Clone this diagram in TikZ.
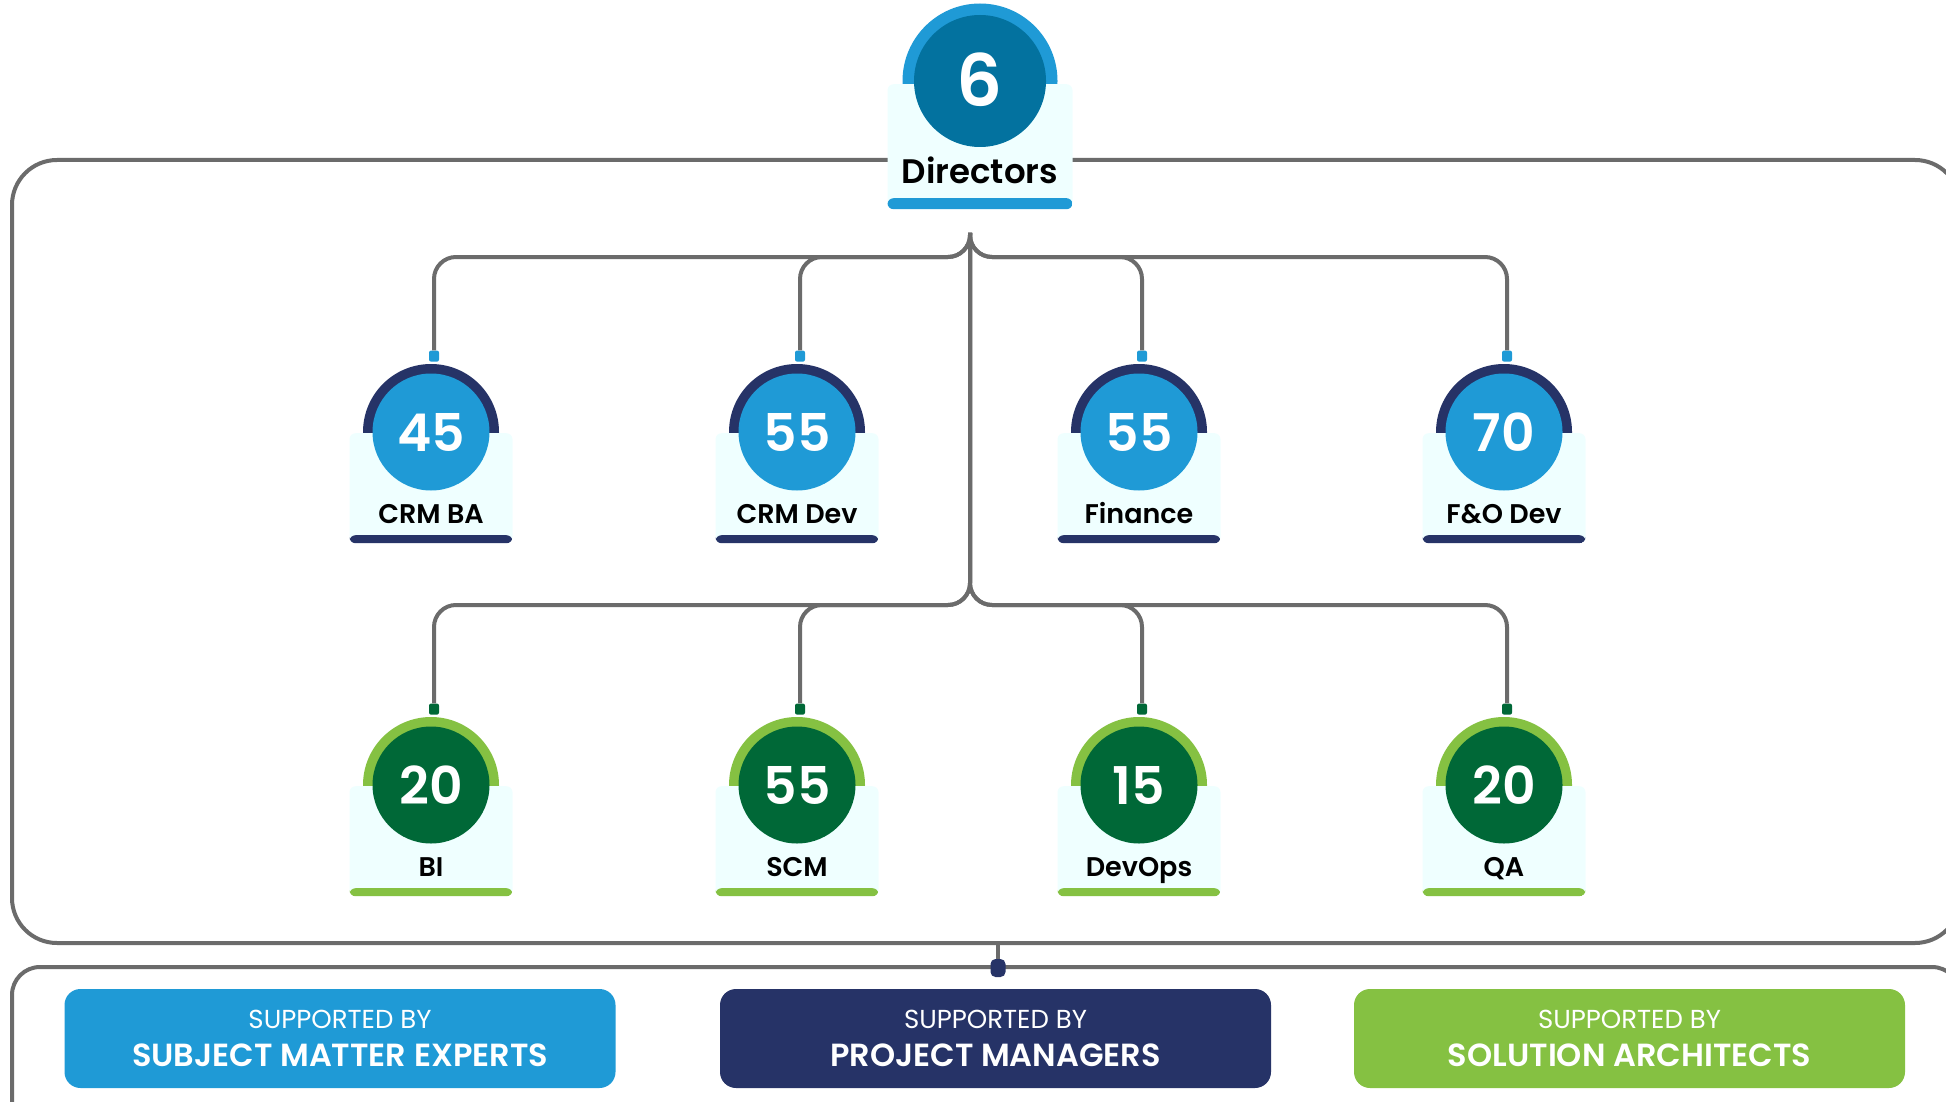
\documentclass[tikz,border=0pt]{standalone}
\usepackage{fontspec}
\setmainfont{Poppins}[BoldFont={Poppins SemiBold}]
\usetikzlibrary{positioning, calc}
\definecolor{skyblue}{RGB}{31,154,214}
\definecolor{deepblue}{RGB}{3,114,159}
\definecolor{navy}{RGB}{38,51,103}
\definecolor{darkgreen}{RGB}{0,104,55}
\definecolor{leafgreen}{RGB}{133,193,66}
\definecolor{cardbg}{RGB}{239,255,255}
\definecolor{linegray}{RGB}{107,107,107}

\begin{document}
\begin{tikzpicture}[
    x=1pt, y=-1pt,
    link/.style={draw=linegray, line width=4pt, rounded corners=22pt},
    frame/.style={rectangle, draw=linegray, line width=4pt, rounded corners=#1},
    ring/.style={circle, fill=#1, minimum size=136pt, inner sep=0pt},
    num/.style={circle, fill=#1, minimum size=117pt, inner sep=0pt,
        text=white, font=\fontsize{52}{52}\selectfont\bfseries},
    card/.style={rectangle, rounded corners=6pt, fill=cardbg,
        minimum width=163pt, minimum height=110pt, inner sep=0pt},
    bar/.style 2 args={path picture={\fill[#1]
        ([yshift=#2]path picture bounding box.south west)
        rectangle (path picture bounding box.south east);}},
    pin/.style={rectangle, rounded corners=2pt, fill=#1,
        minimum width=10pt, minimum height=11pt, inner sep=0pt},
    role/.style={anchor=base, inner sep=0pt, font=\fontsize{27}{27}\selectfont\bfseries},
    badge/.style={rectangle, rounded corners=16pt, fill=#1, text=white,
        minimum width=551pt, minimum height=99pt, align=center,
        font=\fontsize{26}{38}\selectfont}
]
\useasboundingbox (0,0) rectangle (1946,1102);
\clip (0,0) rectangle (1946,1102);

% frames
\node[frame=45pt, minimum width=1948pt, minimum height=783pt] (panel) at (986,551.5) {};
\node[frame=28pt, minimum width=1948pt, minimum height=173pt] (support) at (986,1053.5) {};
\node[pin=navy, minimum width=15pt, minimum height=18pt, rounded corners=5pt] (hook) at (998,968) {};
\draw[line width=4pt, linegray] (hook.north) -- (hook |- panel.south);

% tree
\coordinate (hub) at (970,233);
\coordinate (upper bus) at (970,257);
\coordinate (lower bus) at (970,605);

% top row
\node[ring=navy] (crmba ring) at (431,432) {};
\node[ring=navy] (crmdev ring) at (797,432) {};
\node[ring=navy] (finance ring) at (1139,432) {};
\node[ring=navy] (fodev ring) at (1504,432) {};
\node[pin=skyblue, above=2pt of crmba ring.north, xshift=3pt] (crmba pin) {};
\node[pin=skyblue, above=2pt of crmdev ring.north, xshift=3pt] (crmdev pin) {};
\node[pin=skyblue, above=2pt of finance ring.north, xshift=3pt] (finance pin) {};
\node[pin=skyblue, above=2pt of fodev ring.north, xshift=3pt] (fodev pin) {};

% bottom row
\node[ring=leafgreen] (bi ring) at (431,785) {};
\node[ring=leafgreen] (scm ring) at (797,785) {};
\node[ring=leafgreen] (devops ring) at (1139,785) {};
\node[ring=leafgreen] (qa ring) at (1504,785) {};
\node[pin=darkgreen, above=2pt of bi ring.north, xshift=3pt] (bi pin) {};
\node[pin=darkgreen, above=2pt of scm ring.north, xshift=3pt] (scm pin) {};
\node[pin=darkgreen, above=2pt of devops ring.north, xshift=3pt] (devops pin) {};
\node[pin=darkgreen, above=2pt of qa ring.north, xshift=3pt] (qa pin) {};

\draw[link] (hub) |- (crmba pin |- upper bus) -- (crmba pin.north);
\draw[link] (hub) |- (crmdev pin |- upper bus) -- (crmdev pin.north);
\draw[link] (hub) |- (finance pin |- upper bus) -- (finance pin.north);
\draw[link] (hub) |- (fodev pin |- upper bus) -- (fodev pin.north);
\draw[link] (hub) |- (bi pin |- lower bus) -- (bi pin.north);
\draw[link] (hub) |- (scm pin |- lower bus) -- (scm pin.north);
\draw[link] (hub) |- (devops pin |- lower bus) -- (devops pin.north);
\draw[link] (hub) |- (qa pin |- lower bus) -- (qa pin.north);

% directors
\node[ring=skyblue, minimum size=155pt] (dir ring) at (980,81) {};
\node[card, bar={skyblue}{11pt}, minimum width=185pt, minimum height=125pt,
    below=3pt of dir ring.center] (dir card) {};
\node[num=deepblue, minimum size=132pt, font=\fontsize{72}{72}\selectfont\bfseries] (dir) at (dir ring) {\raisebox{2pt}{6}};
\node[role, font=\fontsize{34}{34}\selectfont\bfseries] (dir label) at ([yshift=26pt]dir card.south) {Directors};

% top row cards
\node[card, bar={navy}{8pt}, below=1pt of crmba ring.center] (crmba card) {};
\node[card, bar={navy}{8pt}, below=1pt of crmdev ring.center] (crmdev card) {};
\node[card, bar={navy}{8pt}, below=1pt of finance ring.center] (finance card) {};
\node[card, bar={navy}{8pt}, below=1pt of fodev ring.center] (fodev card) {};
\node[num=skyblue] (crmba) at (crmba ring) {45};
\node[num=skyblue] (crmdev) at (crmdev ring) {55};
\node[num=skyblue] (finance) at (finance ring) {55};
\node[num=skyblue] (fodev) at (fodev ring) {70};
\node[role] (crmba label) at ([yshift=20pt]crmba card.south) {CRM BA};
\node[role] (crmdev label) at ([yshift=20pt]crmdev card.south) {CRM Dev};
\node[role] (finance label) at ([yshift=20pt]finance card.south) {Finance};
\node[role] (fodev label) at ([yshift=20pt]fodev card.south) {F\&O Dev};

% bottom row cards
\node[card, bar={leafgreen}{8pt}, below=1pt of bi ring.center] (bi card) {};
\node[card, bar={leafgreen}{8pt}, below=1pt of scm ring.center] (scm card) {};
\node[card, bar={leafgreen}{8pt}, below=1pt of devops ring.center] (devops card) {};
\node[card, bar={leafgreen}{8pt}, below=1pt of qa ring.center] (qa card) {};
\node[num=darkgreen] (bi) at (bi ring) {20};
\node[num=darkgreen] (scm) at (scm ring) {55};
\node[num=darkgreen] (devops) at (devops ring) {15};
\node[num=darkgreen] (qa) at (qa ring) {20};
\node[role] (bi label) at ([yshift=20pt]bi card.south) {BI};
\node[role] (scm label) at ([yshift=20pt]scm card.south) {SCM};
\node[role] (devops label) at ([yshift=20pt]devops card.south) {DevOps};
\node[role] (qa label) at ([yshift=20pt]qa card.south) {QA};

% support badges
\node[badge=skyblue] (sme) at (340,1038.5) {SUPPORTED BY\\{\fontsize{32}{38}\selectfont\bfseries SUBJECT MATTER EXPERTS}};
\node[badge=navy] (pm) at (995.5,1038.5) {SUPPORTED BY\\{\fontsize{32}{38}\selectfont\bfseries PROJECT MANAGERS}};
\node[badge=leafgreen] (sa) at (1629.5,1038.5) {SUPPORTED BY\\{\fontsize{32}{38}\selectfont\bfseries SOLUTION ARCHITECTS}};
\end{tikzpicture}
\end{document}
